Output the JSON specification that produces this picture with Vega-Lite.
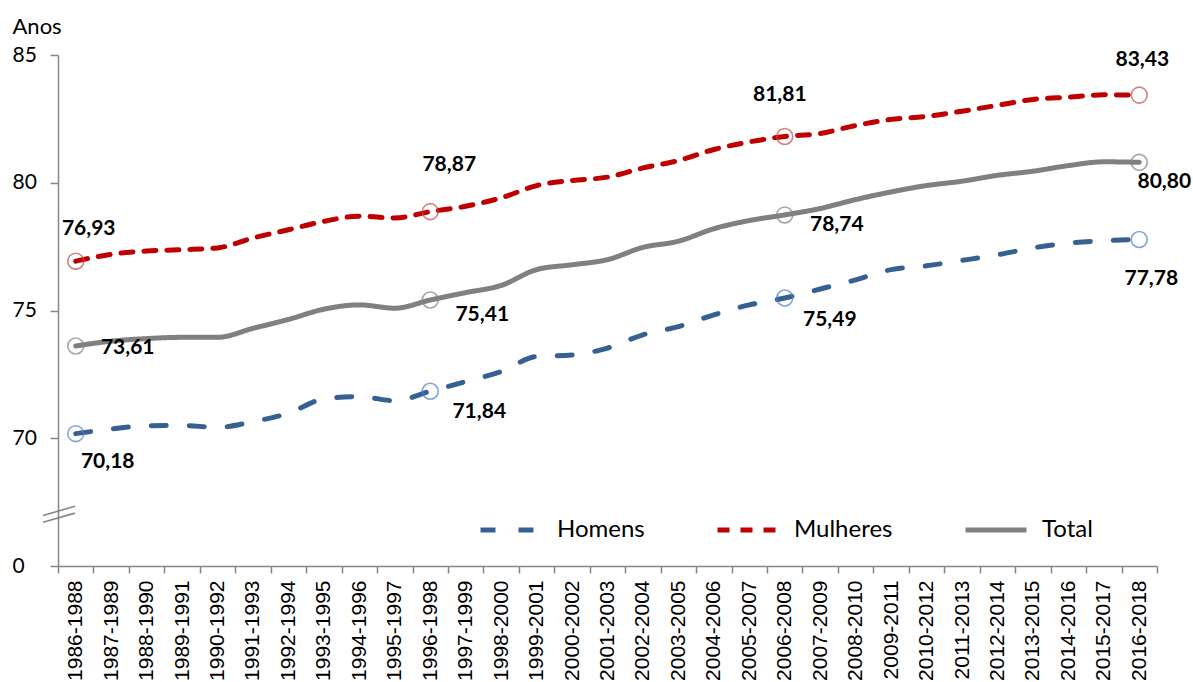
{
  "$schema": "https://vega.github.io/schema/vega-lite/v6.json",
  "width": 1099,
  "height": 511,
  "autosize": {"type": "none"},
  "padding": {"left": 58, "top": 55, "right": 36, "bottom": 116},
  "background": "white",
  "config": {
    "view": {"stroke": null},
    "locale": {"number": {"decimal": ",", "thousands": ".", "grouping": [3], "currency": ["", " €"]}},
    "axis": {"grid": false, "domainColor": "#868686", "tickColor": "#868686", "domainWidth": 1.5, "tickWidth": 1.5}
  },
  "datasets": {
    "dados": [
      {"periodo": "1986-1988", "serie": "Homens", "valor": 70.18},
      {"periodo": "1987-1989", "serie": "Homens", "valor": 70.36},
      {"periodo": "1988-1990", "serie": "Homens", "valor": 70.49},
      {"periodo": "1989-1991", "serie": "Homens", "valor": 70.5},
      {"periodo": "1990-1992", "serie": "Homens", "valor": 70.43},
      {"periodo": "1991-1993", "serie": "Homens", "valor": 70.65},
      {"periodo": "1992-1994", "serie": "Homens", "valor": 70.98},
      {"periodo": "1993-1995", "serie": "Homens", "valor": 71.54},
      {"periodo": "1994-1996", "serie": "Homens", "valor": 71.63},
      {"periodo": "1995-1997", "serie": "Homens", "valor": 71.47},
      {"periodo": "1996-1998", "serie": "Homens", "valor": 71.84},
      {"periodo": "1997-1999", "serie": "Homens", "valor": 72.22},
      {"periodo": "1998-2000", "serie": "Homens", "valor": 72.61},
      {"periodo": "1999-2001", "serie": "Homens", "valor": 73.2},
      {"periodo": "2000-2002", "serie": "Homens", "valor": 73.26},
      {"periodo": "2001-2003", "serie": "Homens", "valor": 73.53},
      {"periodo": "2002-2004", "serie": "Homens", "valor": 74.05},
      {"periodo": "2003-2005", "serie": "Homens", "valor": 74.37},
      {"periodo": "2004-2006", "serie": "Homens", "valor": 74.83},
      {"periodo": "2005-2007", "serie": "Homens", "valor": 75.22},
      {"periodo": "2006-2008", "serie": "Homens", "valor": 75.49},
      {"periodo": "2007-2009", "serie": "Homens", "valor": 75.84},
      {"periodo": "2008-2010", "serie": "Homens", "valor": 76.2},
      {"periodo": "2009-2011", "serie": "Homens", "valor": 76.6},
      {"periodo": "2010-2012", "serie": "Homens", "valor": 76.75},
      {"periodo": "2011-2013", "serie": "Homens", "valor": 76.96},
      {"periodo": "2012-2014", "serie": "Homens", "valor": 77.18},
      {"periodo": "2013-2015", "serie": "Homens", "valor": 77.45},
      {"periodo": "2014-2016", "serie": "Homens", "valor": 77.64},
      {"periodo": "2015-2017", "serie": "Homens", "valor": 77.73},
      {"periodo": "2016-2018", "serie": "Homens", "valor": 77.78},
      {"periodo": "1986-1988", "serie": "Mulheres", "valor": 76.93},
      {"periodo": "1987-1989", "serie": "Mulheres", "valor": 77.2},
      {"periodo": "1988-1990", "serie": "Mulheres", "valor": 77.33},
      {"periodo": "1989-1991", "serie": "Mulheres", "valor": 77.38},
      {"periodo": "1990-1992", "serie": "Mulheres", "valor": 77.45},
      {"periodo": "1991-1993", "serie": "Mulheres", "valor": 77.84},
      {"periodo": "1992-1994", "serie": "Mulheres", "valor": 78.16},
      {"periodo": "1993-1995", "serie": "Mulheres", "valor": 78.49},
      {"periodo": "1994-1996", "serie": "Mulheres", "valor": 78.69},
      {"periodo": "1995-1997", "serie": "Mulheres", "valor": 78.62},
      {"periodo": "1996-1998", "serie": "Mulheres", "valor": 78.87},
      {"periodo": "1997-1999", "serie": "Mulheres", "valor": 79.08},
      {"periodo": "1998-2000", "serie": "Mulheres", "valor": 79.41},
      {"periodo": "1999-2001", "serie": "Mulheres", "valor": 79.89},
      {"periodo": "2000-2002", "serie": "Mulheres", "valor": 80.09},
      {"periodo": "2001-2003", "serie": "Mulheres", "valor": 80.22},
      {"periodo": "2002-2004", "serie": "Mulheres", "valor": 80.58},
      {"periodo": "2003-2005", "serie": "Mulheres", "valor": 80.87},
      {"periodo": "2004-2006", "serie": "Mulheres", "valor": 81.3},
      {"periodo": "2005-2007", "serie": "Mulheres", "valor": 81.6},
      {"periodo": "2006-2008", "serie": "Mulheres", "valor": 81.81},
      {"periodo": "2007-2009", "serie": "Mulheres", "valor": 81.93},
      {"periodo": "2008-2010", "serie": "Mulheres", "valor": 82.24},
      {"periodo": "2009-2011", "serie": "Mulheres", "valor": 82.48},
      {"periodo": "2010-2012", "serie": "Mulheres", "valor": 82.6},
      {"periodo": "2011-2013", "serie": "Mulheres", "valor": 82.8},
      {"periodo": "2012-2014", "serie": "Mulheres", "valor": 83.03},
      {"periodo": "2013-2015", "serie": "Mulheres", "valor": 83.26},
      {"periodo": "2014-2016", "serie": "Mulheres", "valor": 83.35},
      {"periodo": "2015-2017", "serie": "Mulheres", "valor": 83.44},
      {"periodo": "2016-2018", "serie": "Mulheres", "valor": 83.43},
      {"periodo": "1986-1988", "serie": "Total", "valor": 73.61},
      {"periodo": "1987-1989", "serie": "Total", "valor": 73.8},
      {"periodo": "1988-1990", "serie": "Total", "valor": 73.9},
      {"periodo": "1989-1991", "serie": "Total", "valor": 73.95},
      {"periodo": "1990-1992", "serie": "Total", "valor": 73.95},
      {"periodo": "1991-1993", "serie": "Total", "valor": 74.3},
      {"periodo": "1992-1994", "serie": "Total", "valor": 74.65},
      {"periodo": "1993-1995", "serie": "Total", "valor": 75.05},
      {"periodo": "1994-1996", "serie": "Total", "valor": 75.22},
      {"periodo": "1995-1997", "serie": "Total", "valor": 75.09},
      {"periodo": "1996-1998", "serie": "Total", "valor": 75.41},
      {"periodo": "1997-1999", "serie": "Total", "valor": 75.7},
      {"periodo": "1998-2000", "serie": "Total", "valor": 75.98},
      {"periodo": "1999-2001", "serie": "Total", "valor": 76.6},
      {"periodo": "2000-2002", "serie": "Total", "valor": 76.79},
      {"periodo": "2001-2003", "serie": "Total", "valor": 76.99},
      {"periodo": "2002-2004", "serie": "Total", "valor": 77.47},
      {"periodo": "2003-2005", "serie": "Total", "valor": 77.71},
      {"periodo": "2004-2006", "serie": "Total", "valor": 78.2},
      {"periodo": "2005-2007", "serie": "Total", "valor": 78.52},
      {"periodo": "2006-2008", "serie": "Total", "valor": 78.74},
      {"periodo": "2007-2009", "serie": "Total", "valor": 78.99},
      {"periodo": "2008-2010", "serie": "Total", "valor": 79.34},
      {"periodo": "2009-2011", "serie": "Total", "valor": 79.64},
      {"periodo": "2010-2012", "serie": "Total", "valor": 79.89},
      {"periodo": "2011-2013", "serie": "Total", "valor": 80.06},
      {"periodo": "2012-2014", "serie": "Total", "valor": 80.29},
      {"periodo": "2013-2015", "serie": "Total", "valor": 80.45},
      {"periodo": "2014-2016", "serie": "Total", "valor": 80.67},
      {"periodo": "2015-2017", "serie": "Total", "valor": 80.82},
      {"periodo": "2016-2018", "serie": "Total", "valor": 80.8}
    ],
    "quebra": [
      {"y1": 66.98, "y2": 67.34},
      {"y1": 66.71, "y2": 67.07}
    ]
  },
  "data": {"name": "dados"},
  "encoding": {
    "x": {
      "field": "periodo", "type": "nominal", "sort": null,
      "scale": {"type": "band", "paddingInner": 0, "paddingOuter": 0},
      "axis": {
        "title": null, "labelAngle": -90, "labelFont": "Liberation Sans", "labelFontSize": 21,
        "labelColor": "#000000", "labelPadding": 7, "tickSize": 7, "tickBand": "extent"
      }
    },
    "y": {
      "field": "valor", "type": "quantitative",
      "scale": {"domain": [65, 85], "nice": false, "zero": false},
      "axis": {
        "values": [65, 70, 75, 80, 85],
        "labelExpr": "datum.value == 65 ? '0' : datum.label",
        "tickSize": 8, "labelAlign": "left", "labelPadding": 38, "labelFont": "Lato", "labelFontSize": 21,
        "labelColor": "#000000", "labelBaseline": "middle",
        "title": "Anos", "titleAngle": 0, "titleX": -46, "titleY": -22, "titleAlign": "left",
        "titleBaseline": "alphabetic", "titleFont": "Lato", "titleFontSize": 22, "titleFontWeight": "normal",
        "titleColor": "#000000"
      }
    }
  },
  "layer": [
    {
      "mark": {"type": "line", "interpolate": "monotone", "strokeWidth": 5, "strokeCap": "round"},
      "encoding": {
        "color": {
          "field": "serie", "type": "nominal",
          "scale": {"domain": ["Homens", "Mulheres", "Total"], "range": ["#376092", "#c00000", "#808080"]},
          "legend": {
            "title": null, "orient": "none", "legendX": 420, "legendY": 442, "direction": "horizontal",
            "symbolType": "stroke", "symbolSize": 3721, "symbolStrokeWidth": 5,
            "labelFont": "Lato", "labelFontSize": 24, "labelColor": "#000000", "labelOffset": 13,
            "columnPadding": 62, "padding": 0
          }
        },
        "strokeDash": {
          "field": "serie", "type": "nominal",
          "scale": {"domain": ["Homens", "Mulheres", "Total"], "range": [[15, 23], [12, 11], [1, 0]]},
          "legend": {
            "title": null, "orient": "none", "legendX": 420, "legendY": 442, "direction": "horizontal",
            "symbolType": "stroke", "symbolSize": 3721, "symbolStrokeWidth": 5,
            "labelFont": "Lato", "labelFontSize": 24, "labelColor": "#000000", "labelOffset": 13,
            "columnPadding": 62, "padding": 0
          }
        }
      }
    },
    {
      "transform": [{"filter": {"field": "periodo", "oneOf": ["1986-1988", "1996-1998", "2006-2008", "2016-2018"]}}],
      "mark": {"type": "point", "shape": "circle", "size": 254, "filled": false, "strokeWidth": 1.6},
      "encoding": {
        "stroke": {
          "field": "serie", "type": "nominal",
          "scale": {"domain": ["Homens", "Mulheres", "Total"], "range": ["#4f81bd", "#c0504d", "#808080"]},
          "legend": null
        }
      }
    },
    {"transform": [{"filter": "datum.serie == 'Homens' && datum.periodo == '1986-1988'"}],
     "mark": {"type": "text", "font": "Lato", "fontWeight": "bold", "fontSize": 21, "color": "#000000", "dx": 32, "dy": 28},
     "encoding": {"text": {"field": "valor", "type": "quantitative", "format": ".2f"}}},
    {"transform": [{"filter": "datum.serie == 'Homens' && datum.periodo == '1996-1998'"}],
     "mark": {"type": "text", "font": "Lato", "fontWeight": "bold", "fontSize": 21, "color": "#000000", "dx": 49, "dy": 21},
     "encoding": {"text": {"field": "valor", "type": "quantitative", "format": ".2f"}}},
    {"transform": [{"filter": "datum.serie == 'Homens' && datum.periodo == '2006-2008'"}],
     "mark": {"type": "text", "font": "Lato", "fontWeight": "bold", "fontSize": 21, "color": "#000000", "dx": 45, "dy": 22},
     "encoding": {"text": {"field": "valor", "type": "quantitative", "format": ".2f"}}},
    {"transform": [{"filter": "datum.serie == 'Homens' && datum.periodo == '2016-2018'"}],
     "mark": {"type": "text", "font": "Lato", "fontWeight": "bold", "fontSize": 21, "color": "#000000", "dx": 12, "dy": 40},
     "encoding": {"text": {"field": "valor", "type": "quantitative", "format": ".2f"}}},
    {"transform": [{"filter": "datum.serie == 'Mulheres' && datum.periodo == '1986-1988'"}],
     "mark": {"type": "text", "font": "Lato", "fontWeight": "bold", "fontSize": 21, "color": "#000000", "dx": 13, "dy": -32},
     "encoding": {"text": {"field": "valor", "type": "quantitative", "format": ".2f"}}},
    {"transform": [{"filter": "datum.serie == 'Mulheres' && datum.periodo == '1996-1998'"}],
     "mark": {"type": "text", "font": "Lato", "fontWeight": "bold", "fontSize": 21, "color": "#000000", "dx": 19, "dy": -47},
     "encoding": {"text": {"field": "valor", "type": "quantitative", "format": ".2f"}}},
    {"transform": [{"filter": "datum.serie == 'Mulheres' && datum.periodo == '2006-2008'"}],
     "mark": {"type": "text", "font": "Lato", "fontWeight": "bold", "fontSize": 21, "color": "#000000", "dx": -5, "dy": -42},
     "encoding": {"text": {"field": "valor", "type": "quantitative", "format": ".2f"}}},
    {"transform": [{"filter": "datum.serie == 'Mulheres' && datum.periodo == '2016-2018'"}],
     "mark": {"type": "text", "font": "Lato", "fontWeight": "bold", "fontSize": 21, "color": "#000000", "dx": 3, "dy": -35},
     "encoding": {"text": {"field": "valor", "type": "quantitative", "format": ".2f"}}},
    {"transform": [{"filter": "datum.serie == 'Total' && datum.periodo == '1986-1988'"}],
     "mark": {"type": "text", "font": "Lato", "fontWeight": "bold", "fontSize": 21, "color": "#000000", "dx": 52, "dy": 2},
     "encoding": {"text": {"field": "valor", "type": "quantitative", "format": ".2f"}}},
    {"transform": [{"filter": "datum.serie == 'Total' && datum.periodo == '1996-1998'"}],
     "mark": {"type": "text", "font": "Lato", "fontWeight": "bold", "fontSize": 21, "color": "#000000", "dx": 52, "dy": 15},
     "encoding": {"text": {"field": "valor", "type": "quantitative", "format": ".2f"}}},
    {"transform": [{"filter": "datum.serie == 'Total' && datum.periodo == '2006-2008'"}],
     "mark": {"type": "text", "font": "Lato", "fontWeight": "bold", "fontSize": 21, "color": "#000000", "dx": 52, "dy": 10},
     "encoding": {"text": {"field": "valor", "type": "quantitative", "format": ".2f"}}},
    {"transform": [{"filter": "datum.serie == 'Total' && datum.periodo == '2016-2018'"}],
     "mark": {"type": "text", "font": "Lato", "fontWeight": "bold", "fontSize": 21, "color": "#000000", "dx": 25, "dy": 20},
     "encoding": {"text": {"field": "valor", "type": "quantitative", "format": ".2f"}}},
    {
      "data": {"name": "quebra"},
      "mark": {"type": "rule", "color": "#868686", "strokeWidth": 1.6, "xOffset": -15, "x2Offset": 17},
      "encoding": {
        "x": {"datum": "1986-1988", "type": "nominal", "bandPosition": 0},
        "x2": {"datum": "1986-1988", "bandPosition": 0},
        "y": {"field": "y1", "type": "quantitative"},
        "y2": {"field": "y2"}
      }
    }
  ]
}
